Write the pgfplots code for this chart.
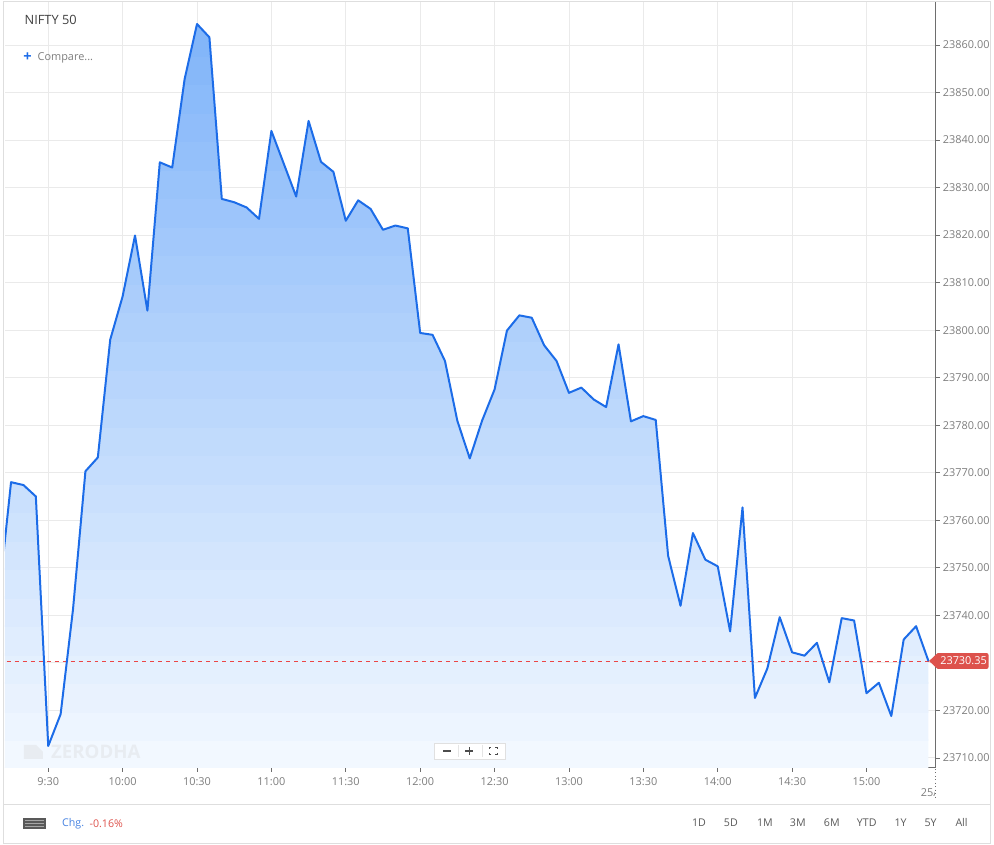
\documentclass[border=0pt]{standalone}
\usepackage{pgfplots}
\pgfplotsset{compat=1.18}
\usepackage{pgfplotstable}
\usepackage{fontspec}
\setmainfont{Open Sans}
\definecolor{linecol}{RGB}{28,108,232}
\definecolor{topfill}{RGB}{128,180,249}
\definecolor{botfill}{RGB}{244,249,255}
\definecolor{gridgray}{RGB}{234,234,234}
\definecolor{axisgray}{RGB}{110,110,110}
\definecolor{labelgray}{RGB}{125,125,125}
\definecolor{bordergray}{RGB}{222,222,222}
\definecolor{tagred}{RGB}{221,82,76}
\definecolor{dashred}{RGB}{235,70,70}
\definecolor{chgblue}{RGB}{70,130,225}
\definecolor{wm}{RGB}{232,236,241}

\pgfplotstableread{
t v
-5 23743.3
0 23768.0
5 23767.4
10 23765.0
15 23712.5
20 23719.2
25 23741.3
30 23770.3
35 23773.2
40 23798.0
45 23807.1
50 23819.9
55 23804.1
60 23835.3
65 23834.2
70 23852.8
75 23864.4
80 23861.6
85 23827.6
90 23826.9
95 23825.8
100 23823.4
105 23841.9
110 23835.0
115 23828.1
120 23844.0
125 23835.4
130 23833.3
135 23823.0
140 23827.3
145 23825.5
150 23821.1
155 23822.0
160 23821.4
165 23799.4
170 23799.0
175 23793.5
180 23780.9
185 23773.0
190 23781.0
195 23787.5
200 23799.9
205 23803.1
210 23802.6
215 23796.8
220 23793.5
225 23786.8
230 23787.9
235 23785.4
240 23783.8
245 23797.0
250 23780.8
255 23781.9
260 23781.1
265 23752.5
270 23742.0
275 23757.3
280 23751.7
285 23750.3
290 23736.6
295 23762.7
300 23722.6
305 23728.8
310 23739.6
315 23732.2
320 23731.5
325 23734.2
330 23725.9
335 23739.4
340 23738.9
345 23723.6
350 23725.8
355 23718.8
360 23734.9
365 23737.7
370 23730.35
}\datatable

\newcommand{\band}[3]{%
  \begin{scope}
  \clip (axis cs:-10,#1) rectangle (axis cs:400,#2);
  \addplot[draw=none, fill=topfill!#3!botfill, forget plot]
    table[x=t,y=v] {\datatable} -- (axis cs:370,23707.9) -- (axis cs:-5,23707.9) -- cycle;
  \end{scope}}

\begin{document}
\begin{tikzpicture}[x=0.75pt,y=0.75pt]
\begin{scope}[yshift=634.5pt, y=-0.75pt]
\useasboundingbox (0,0) rectangle (994,846);
\draw[bordergray, line width=0.75pt] (4,1.5) rectangle (992,845);
\draw[bordergray, line width=0.75pt] (4,806) -- (992,806);
\end{scope}

\begin{axis}[
  at={(3.75pt,57.75pt)}, anchor=south west,
  scale only axis, width=699pt, height=575.25pt,
  xmin=-2.44, xmax=372.87, ymin=23707.9, ymax=23869.03,
  axis x line*=bottom, axis y line*=right,
  axis line style={-, draw=axisgray, line width=0.8pt},
  scaled y ticks=false, scaled x ticks=false,
  xtick={15,45,...,345},
  xticklabels={9:30,10:00,10:30,11:00,11:30,12:00,12:30,13:00,13:30,14:00,14:30,15:00},
  ytick={23710,23720,...,23860},
  yticklabels={23710.00,23720.00,,23740.00,23750.00,23760.00,23770.00,23780.00,23790.00,23800.00,23810.00,23820.00,23830.00,23840.00,23850.00,23860.00},
  grid=major, major grid style={gridgray, line width=0.6pt},
  tick align=outside, major tick length=3pt,
  tick style={axisgray, line width=0.5pt},
  ticklabel style={font=\fontsize{8.2}{10}\selectfont, text=labelgray},
  xticklabel style={yshift=-1pt},
  yticklabel style={xshift=-1pt},
]
\band{23700.0}{23713.9}{1.9}
\band{23713.6}{23719.9}{5.8}
\band{23719.6}{23725.9}{9.6}
\band{23725.6}{23731.9}{13.4}
\band{23731.6}{23737.9}{17.3}
\band{23737.6}{23743.9}{21.1}
\band{23743.6}{23749.9}{24.9}
\band{23749.6}{23755.9}{28.8}
\band{23755.6}{23761.9}{32.6}
\band{23761.6}{23767.9}{36.4}
\band{23767.6}{23773.9}{40.3}
\band{23773.6}{23779.9}{44.1}
\band{23779.6}{23785.9}{47.9}
\band{23785.6}{23791.9}{51.8}
\band{23791.6}{23797.9}{55.6}
\band{23797.6}{23803.9}{59.4}
\band{23803.6}{23809.9}{63.3}
\band{23809.6}{23815.9}{67.1}
\band{23815.6}{23821.9}{70.9}
\band{23821.6}{23827.9}{74.8}
\band{23827.6}{23833.9}{78.6}
\band{23833.6}{23839.9}{82.4}
\band{23839.6}{23845.9}{86.3}
\band{23845.6}{23851.9}{90.1}
\band{23851.6}{23857.9}{93.9}
\band{23857.6}{23870.0}{97.8}
\addplot[color=dashred, dash pattern=on 3pt off 3pt, line width=0.9pt] coordinates {(-5,23730.35) (380,23730.35)};
\addplot[color=linecol, line width=1.5pt, line join=round] table[x=t,y=v] {\datatable};
\end{axis}

\begin{scope}[yshift=634.5pt, y=-0.75pt]
% title
\node[anchor=west, text=black!75, font=\fontsize{9.6}{11}\selectfont] at (20,20) {NIFTY 50};
\node[text=linecol, font=\bfseries\fontsize{11}{12}\selectfont, inner sep=0pt] at (27.5,57) {+};
\node[anchor=west, text=labelgray, font=\fontsize{8.2}{10}\selectfont] at (33,57.5) {Compare...};
% watermark
\fill[wm] (24,746) -- (36,746) -- (43,753) -- (43,760) -- (24,760) -- cycle;
\node[anchor=west, text=wm, font=\bfseries\fontsize{14}{14}\selectfont, inner sep=0pt] at (51,753) {ZERODHA};
% zoom controls
\fill[black!6] (436,745) rectangle (507,761);
\draw[black!12, fill=white] (435,744) rectangle (506,760);
\draw[black!10] (459,746) -- (459,758);
\draw[black!10] (483,746) -- (483,758);
\draw[black!70, line width=1.2pt] (444,752) -- (452,752);
\draw[black!70, line width=1.2pt] (466,752) -- (474,752) (470,748) -- (470,756);
\draw[black!70, line width=0.9pt] (490,750) -- (490,748.5) -- (492,748.5) (496,748.5) -- (498,748.5) -- (498,750)
  (498,754) -- (498,755.5) -- (496,755.5) (492,755.5) -- (490,755.5) -- (490,754);
% price tag
\fill[tagred] (930.5,662) -- (939,654) -- (939,670) -- cycle;
\fill[tagred, rounded corners=1.5pt] (938,654) rectangle (990,670);
\node[text=white, font=\fontsize{8.2}{10}\selectfont] at (965,662) {23730.35};
% date mark
\draw[axisgray, dotted, line width=0.6pt] (937,770) -- (937,801);
\begin{scope}
\clip (900,780) rectangle (936,806);
\node[text=labelgray, font=\fontsize{8.2}{10}\selectfont, anchor=west, inner sep=0pt] at (922,794) {25/11};
\end{scope}
% bottom bar
\fill[black!65] (23,819) rectangle (46,830);
\draw[black!35, line width=0.3pt] (25,821.5) -- (44,821.5) (25,824.5) -- (44,824.5) (25,827.5) -- (44,827.5);
\node[anchor=west, text=chgblue, font=\fontsize{8}{10}\selectfont, inner sep=0pt] at (62,824.5) {Chg.};
\node[anchor=west, text=tagred, font=\fontsize{8}{10}\selectfont, inner sep=0pt] at (89.5,824.5) {-0.16\%};
\foreach \lab/\xx in {1D/700,5D/732,1M/766,3M/799,6M/833,YTD/868,1Y/902,5Y/932,All/963}{
  \node[text=black!65, font=\fontsize{8}{10}\selectfont] at (\xx,824) {\lab};
}
\end{scope}
\end{tikzpicture}
\end{document}
